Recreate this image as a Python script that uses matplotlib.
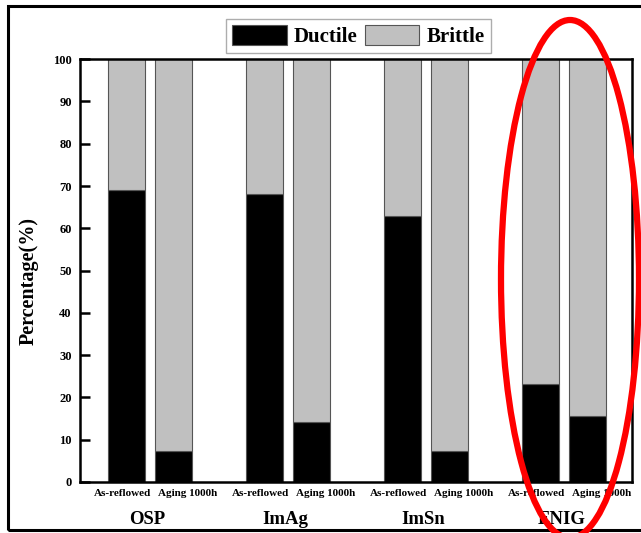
import numpy as np
import matplotlib
matplotlib.use("Agg")
import matplotlib.pyplot as plt
from matplotlib.patches import Ellipse, Rectangle
import matplotlib.transforms as mtransforms

# Data
finishes = ["OSP", "ImAg", "ImSn", "ENIG"]
conditions = ["As-reflowed", "Aging 1000h"]
ductile_reflowed = [69, 68, 63, 23.2]
ductile_aged = [7.3, 14.2, 7.3, 15.6]

plt.rcParams['font.family'] = ['Liberation Serif', 'DejaVu Serif']
plt.rcParams['font.weight'] = 'bold'

fig = plt.figure(figsize=(6.41, 5.33), dpi=100)
ax = fig.add_axes([0.1248, 0.0957, 0.8612, 0.7933])

group_x = np.arange(len(finishes))
pair_gap = 0.34
bar_w = 0.27
gray = "#c0c0c0"
edge = "#555555"

for k, ductile in enumerate([ductile_reflowed, ductile_aged]):
    x = group_x + k * pair_gap
    brittle = [100 - d for d in ductile]
    ax.bar(x, ductile, bar_w, color="black", edgecolor=edge, linewidth=0.8,
           label="Ductile" if k == 0 else None)
    ax.bar(x, brittle, bar_w, bottom=ductile, color=gray, edgecolor=edge, linewidth=0.8,
           label="Brittle" if k == 0 else None)

ax.set_xlim(-0.337, 3.663)
ax.set_ylim(0, 100)
ax.set_yticks(np.arange(0, 101, 10))
ax.tick_params(axis='y', direction='in', length=7, width=1.8, labelsize=9, pad=6)
for lbl in ax.get_yticklabels():
    lbl.set_fontweight('bold')

# condition labels under each bar
tick_pos = []
tick_lbl = []
for g in group_x:
    tick_pos += [g - 0.03, g + pair_gap + 0.105]
    tick_lbl += conditions
ax.set_xticks(tick_pos)
ax.set_xticklabels(tick_lbl, fontsize=8, fontweight='bold')
ax.tick_params(axis='x', length=0, pad=5)

trans = mtransforms.blended_transform_factory(ax.transData, fig.transFigure)
for g, name in zip(group_x, finishes):
    ax.text(g + pair_gap / 2 - 0.02, 1 - 520 / 533, name, transform=trans, ha='center', va='center',
            fontsize=13.5, fontweight='bold')

for s in ax.spines.values():
    s.set_linewidth(1.8)

ax.set_ylabel("Percentage(%)", fontsize=14.5, fontweight='bold')
ax.yaxis.set_label_coords(-0.074, 0.475)

leg = ax.legend(loc='center', bbox_to_anchor=(0.5593, 1 - 36 / 533), bbox_transform=fig.transFigure,
                ncol=2, fontsize=15, frameon=True, fancybox=False, handlelength=2.6, handleheight=1.1,
                handletextpad=0.35, columnspacing=0.35, borderpad=0.3, edgecolor="#999999")
leg.get_frame().set_linewidth(1.0)
for t in leg.get_texts():
    t.set_fontweight('bold')

# outer frame of the figure
fig.patches.append(Rectangle((8 / 641, 3 / 533), 1.2, 1 - 9 / 533, transform=fig.transFigure,
                             fill=False, edgecolor='black', linewidth=2.2, clip_on=False))

# red highlight ellipse around ENIG
fig.patches.append(Ellipse((570 / 641, 1 - 279 / 533), 138 / 641, 518 / 533, transform=fig.transFigure,
                           fill=False, edgecolor='#ff0000', linewidth=4.5, zorder=10))

fig.savefig("out.png", dpi=100)
